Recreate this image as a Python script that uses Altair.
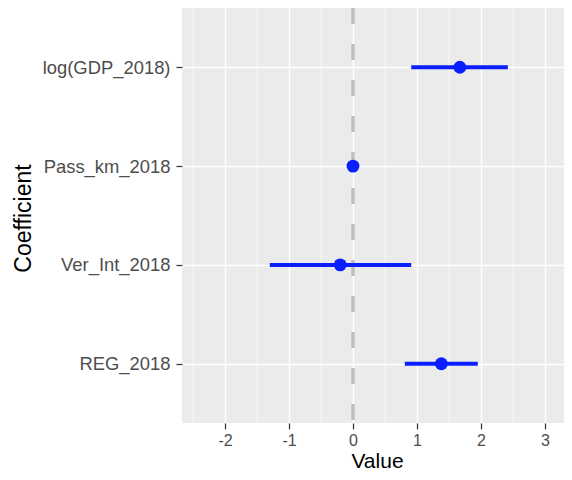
import altair as alt
import pandas as pd

coefs = ["log(GDP_2018)", "Pass_km_2018", "Ver_Int_2018", "REG_2018"]
estimate = [1.67, 0.0, -0.20, 1.38]
lower = [0.91, -0.01, -1.30, 0.81]
upper = [2.42, 0.01, 0.91, 1.95]
x_ticks = [-2, -1, 0, 1, 2, 3]
minor_grid = [-2.5, -1.5, -0.5, 0.5, 1.5, 2.5]
zero_line = [0]

n = len(coefs)
positions = [n - i for i in range(n)]  # top-to-bottom order
df = pd.DataFrame({"Coefficient": coefs, "pos": positions,
                   "Value": estimate, "lo": lower, "hi": upper})

label_expr = " : ".join(
    [f"datum.value == {p} ? '{c}'" for p, c in zip(positions, coefs)] + ["''"]
)

xscale = alt.Scale(domain=[-2.672, 3.297], nice=False, zero=False)
yscale = alt.Scale(domain=[0.4, n + 0.6], nice=False, zero=False)

minor = alt.Chart(pd.DataFrame({"v": minor_grid})).mark_rule(
    color="white", strokeWidth=0.7
).encode(x=alt.X("v:Q", scale=xscale))

zero = alt.Chart(pd.DataFrame({"v": zero_line})).mark_rule(
    color="#bfbfbf", strokeWidth=3.5, strokeDash=[16, 20]
).encode(x=alt.X("v:Q", scale=xscale))

base = alt.Chart(df)

bars = base.mark_rule(color="#0a1eff", strokeWidth=4).encode(
    x=alt.X("lo:Q", scale=xscale, title="Value",
            axis=alt.Axis(values=x_ticks, labelExpr="datum.value + ''",
                          labelFontSize=16, labelPadding=3,
                          titleFontSize=21,
                          titleX=195, titleY=44.5, titleBaseline="alphabetic")),
    x2="hi:Q",
    y=alt.Y("pos:Q", scale=yscale, title="Coefficient",
            axis=alt.Axis(values=positions, labelExpr=label_expr,
                          labelFontSize=18.4, labelPadding=6,
                          titleFontSize=23,
                          titleX=-152, titleY=210, titleBaseline="alphabetic",
                          titleAngle=270, titleAlign="center")),
)

points = base.mark_circle(color="#0a1eff", size=165, opacity=1).encode(
    x=alt.X("Value:Q", scale=xscale),
    y=alt.Y("pos:Q", scale=yscale),
)

chart = alt.layer(minor, zero, bars, points).properties(
    width=382, height=415,
    autosize=alt.AutoSizeParams(type="none"),
    padding={"left": 174, "top": 0, "right": 0, "bottom": 49},
).configure_view(
    fill="#ebebeb", stroke=None
).configure_axis(
    grid=True, gridColor="white", gridWidth=1.4,
    domain=False, tickColor="#333333", tickWidth=1.2, tickSize=6,
    labelColor="#4d4d4d", labelFont="Liberation Sans",
    titleFont="Liberation Sans", titleFontWeight="normal",
    titleColor="black",
)

chart.save("out.html", embed_options={"renderer": "svg", "actions": False})
